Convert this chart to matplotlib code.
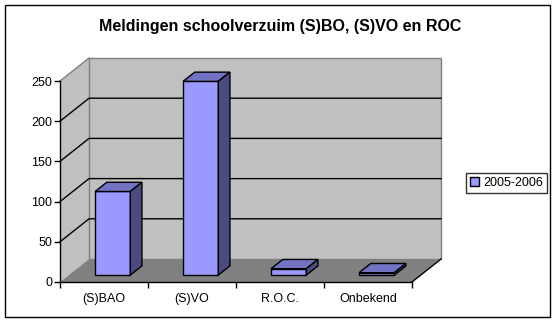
import matplotlib
matplotlib.use('Agg')
import matplotlib.pyplot as plt
from matplotlib.patches import Polygon, Rectangle

plt.rcParams['font.family'] = ['Liberation Sans', 'DejaVu Sans']

# data
categories = ['(S)BAO', '(S)VO', 'R.O.C.', 'Onbekend']
values = [104, 241, 8, 3]
series_name = '2005-2006'
title = 'Meldingen schoolverzuim (S)BO, (S)VO en ROC'

# 3d look: depth offset of back wall in data units
DX = 0.33
DY = 28.6
YMAX = 250

front_col = '#9999FF'
top_col = '#7373C4'
side_col = '#4B4B80'

fig = plt.figure(figsize=(5.57, 3.24), dpi=100)
W, H = 557, 324

# outer chart border
fig.patches.append(Rectangle((5 / W, 1 - 317 / H), 545 / W, 312 / H,
                             transform=fig.transFigure, fill=False,
                             edgecolor='black', linewidth=1))

fig.text(280 / W, 1 - 27 / H, title, ha='center', va='center',
         fontsize=11.5, fontweight='bold')

ax = fig.add_axes([60 / W, (H - 282) / H, 352 / W, 201 / H])
ax.set_xlim(0, len(categories))
ax.set_ylim(0, YMAX)
ax.patch.set_visible(False)
n = len(categories)

# walls and floor
left_wall = Polygon([(0, 0), (DX, DY), (DX, YMAX + DY), (0, YMAX)],
                    facecolor='#C0C0C0', edgecolor='none', zorder=0.5, clip_on=False)
back_wall = Rectangle((DX, DY), n, YMAX, facecolor='#C0C0C0',
                      edgecolor='#808080', linewidth=1, zorder=0.5, clip_on=False)
floor = Polygon([(0, 0), (n, 0), (n + DX, DY), (DX, DY)],
                facecolor='#808080', edgecolor='none', zorder=0.7, clip_on=False)
for p in (left_wall, back_wall, floor):
    ax.add_patch(p)
ax.plot([0, DX], [YMAX, YMAX + DY], color='#808080', lw=1, zorder=0.6, clip_on=False)
ax.plot([n, n + DX], [0, DY], color='black', lw=1, zorder=0.8, clip_on=False)

for v in range(50, YMAX, 50):
    ax.plot([0, DX, n + DX], [v, v + DY, v + DY], color='black', lw=1,
            zorder=0.6, clip_on=False)

# bars
d0, d1 = 0.3, 0.7
for i, v in enumerate(values):
    x0, x1 = i + 0.3, i + 0.7
    front = Polygon([(x0 + d0 * DX, d0 * DY), (x1 + d0 * DX, d0 * DY),
                     (x1 + d0 * DX, v + d0 * DY), (x0 + d0 * DX, v + d0 * DY)],
                    facecolor=front_col, edgecolor='black', lw=1, zorder=2,
                    clip_on=False, label=series_name if i == 0 else None)
    top = Polygon([(x0 + d0 * DX, v + d0 * DY), (x1 + d0 * DX, v + d0 * DY),
                   (x1 + d1 * DX, v + d1 * DY), (x0 + d1 * DX, v + d1 * DY)],
                  facecolor=top_col, edgecolor='black', lw=1, zorder=2, clip_on=False)
    side = Polygon([(x1 + d0 * DX, d0 * DY), (x1 + d1 * DX, d1 * DY),
                    (x1 + d1 * DX, v + d1 * DY), (x1 + d0 * DX, v + d0 * DY)],
                   facecolor=side_col, edgecolor='black', lw=1, zorder=2, clip_on=False)
    ax.add_patch(front)
    ax.add_patch(top)
    ax.add_patch(side)
    if i == 0:
        handle = front

# axes
for s in ('top', 'right'):
    ax.spines[s].set_visible(False)
for s in ('left', 'bottom'):
    ax.spines[s].set_color('black')
    ax.spines[s].set_linewidth(1)
    ax.spines[s].set_zorder(3)

ax.set_yticks(range(0, YMAX + 1, 50))
ax.tick_params(axis='y', direction='out', length=4, width=1, pad=1.5, labelsize=9)
ax.set_xticks(range(n + 1))
ax.set_xticklabels([])
ax.set_xticks([i + 0.5 for i in range(n)], minor=True)
ax.set_xticklabels(categories, minor=True)
ax.tick_params(axis='x', which='major', direction='out', length=4, width=1)
ax.tick_params(axis='x', which='minor', length=0, pad=8, labelsize=9)

leg = ax.legend(handles=[handle], loc='center',
                bbox_to_anchor=(506.5 / W, 1 - 183 / H), bbox_transform=fig.transFigure,
                fontsize=9, frameon=True, fancybox=False, edgecolor='black',
                handlelength=0.7, handleheight=0.7, handletextpad=0.3,
                borderpad=0.35, borderaxespad=0)
leg.get_frame().set_linewidth(1)

fig.savefig('out.png', dpi=100)
